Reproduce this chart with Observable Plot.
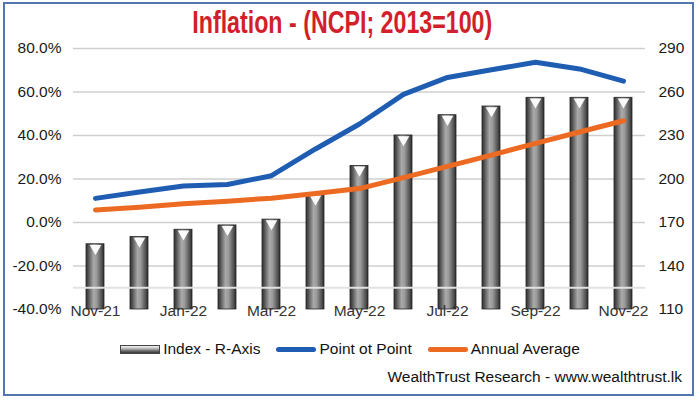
<!DOCTYPE html>
<html>
<head>
<meta charset="utf-8">
<script src="https://cdn.jsdelivr.net/npm/d3@7"></script>
<script src="https://cdn.jsdelivr.net/npm/@observablehq/plot@0.6"></script>
<style>
  html, body { margin: 0; padding: 0; background: #fff; }
  #wrap { position: relative; width: 700px; height: 400px; overflow: hidden; font-family: "Liberation Sans", Arial, sans-serif; }
  #frame { position: absolute; left: 3px; top: 2px; width: 687px; height: 390px; border: 2px solid #5476b0; box-sizing: content-box; }
  #title { position: absolute; top: 5px; left: 0; width: 685px; text-align: center; }
  #title span { display: inline-block; font-family: "Liberation Sans Narrow", "Liberation Sans", Arial, sans-serif; font-weight: bold; font-size: 31px; color: #d21f2b; transform-origin: center; white-space: nowrap; }
  #chart { position: absolute; left: 0; top: 40px; }
  #legend { position: absolute; top: 340px; left: 0; width: 700px; display: flex; justify-content: center; align-items: center; font-size: 15.5px; color: #111; }
  .item { display: flex; align-items: center; margin: 0 8px; }
  .sw { width: 40px; margin-right: 3px; }
  #source { position: absolute; top: 368px; right: 18px; font-size: 15.5px; color: #111; }
</style>
</head>
<body>
<div id="wrap">
  <div id="frame"></div>
  <div id="title"><span id="titleText"></span></div>
  <div id="chart"></div>
  <div id="legend"></div>
  <div id="source"></div>
</div>
<script>
const titleText = "Inflation - (NCPI; 2013=100)";
const sourceText = "WealthTrust Research - www.wealthtrust.lk";
const months = ["Nov-21","Dec-21","Jan-22","Feb-22","Mar-22","Apr-22","May-22","Jun-22","Jul-22","Aug-22","Sep-22","Oct-22","Nov-22"];
const indexValues = [155, 160, 165, 168, 172, 189, 209, 230, 244, 250, 256, 256, 256];
const pointToPoint = [11.1, 14.0, 16.8, 17.5, 21.5, 33.8, 45.3, 58.9, 66.7, 70.2, 73.7, 70.6, 65.0];
const annualAverage = [5.8, 7.0, 8.6, 9.8, 11.2, 13.3, 15.6, 20.6, 25.8, 31.0, 36.4, 41.6, 46.8];
const leftTicks = [-40, -20, 0, 20, 40, 60, 80];
const rightTicks = [110, 140, 170, 200, 230, 260, 290];
const gridTicks = [-20, 0, 20, 40, 60, 80];
const axisLine = [-30];
const xLabels = months.filter((d, i) => i % 2 === 0);
const seriesNames = ["Index - R-Axis", "Point ot Point", "Annual Average"];
const seriesColors = ["#888", "#1f5db3", "#ec6a21"];

document.getElementById("titleText").textContent = titleText;
document.getElementById("source").textContent = sourceText;

const rows = months.map((m, i) => ({month: m, index: indexValues[i], ptp: pointToPoint[i], avg: annualAverage[i]}));

// map the right-axis index onto the left-axis percent scale
const rMin = rightTicks[0], rMax = rightTicks[rightTicks.length - 1];
const lMin = leftTicks[0], lMax = leftTicks[leftTicks.length - 1];
const toY = v => (v - rMin) / (rMax - rMin) * (lMax - lMin) + lMin;
const fromY = y => Math.round((y - lMin) / (lMax - lMin) * (rMax - rMin) + rMin);

const defs = () => {
  const d = d3.create("svg:defs");
  const g = d.append("linearGradient").attr("id", "barGrad").attr("x1", 0).attr("x2", 1).attr("y1", 0).attr("y2", 0);
  [[0, "#2e2e2e"], [0.14, "#555"], [0.42, "#a9a9a9"], [0.58, "#9c9c9c"], [0.86, "#545454"], [1, "#2a2a2a"]]
    .forEach(([o, c]) => g.append("stop").attr("offset", o).attr("stop-color", c));
  return d.node();
};

const chart = Plot.plot({
  width: 700,
  height: 294,
  marginTop: 8,
  marginBottom: 25,
  marginLeft: 73,
  marginRight: 55,
  style: {fontFamily: "'Liberation Sans', Arial, sans-serif", fontSize: "15.5px", color: "#1a1a1a", background: "transparent", overflow: "visible"},
  x: {domain: months, paddingInner: 0.58, paddingOuter: 0.29, axis: null},
  y: {domain: [lMin, lMax], axis: null},
  marks: [
    defs,
    Plot.gridY(gridTicks, {stroke: "#cfcfcf", strokeOpacity: 1, strokeWidth: 1.3}),
    Plot.axisY(leftTicks, {anchor: "left", tickSize: 0, tickPadding: 12, tickFormat: d => d.toFixed(1) + "%", label: null}),
    Plot.axisY(rightTicks.map(toY), {anchor: "right", tickSize: 0, tickPadding: 13, tickFormat: d => String(fromY(d)), label: null}),
    Plot.barY(rows, {x: "month", y1: lMin, y2: d => toY(d.index), fill: "url(#barGrad)", stroke: "#262626", strokeWidth: 0.8}),
    Plot.ruleY(axisLine, {stroke: "#e2e2e2", strokeWidth: 1.8}),
    Plot.dot(rows, {x: "month", y: d => toY(d.index), symbol: "triangle", rotate: 180, r: 4.3, fill: "#fff", fillOpacity: 0.95, dy: 4}),
    Plot.lineY(rows, {x: "month", y: "ptp", stroke: seriesColors[1], strokeWidth: 5, strokeLinecap: "round", strokeLinejoin: "round"}),
    Plot.lineY(rows, {x: "month", y: "avg", stroke: seriesColors[2], strokeWidth: 5, strokeLinecap: "round", strokeLinejoin: "round"}),
    Plot.axisX(xLabels, {anchor: "bottom", tickSize: 0, tickPadding: -5, fill: "#333", label: null})
  ]
});
document.getElementById("chart").appendChild(chart);

// legend
const legend = document.getElementById("legend");
seriesNames.forEach((name, i) => {
  const item = document.createElement("div");
  item.className = "item";
  const sw = document.createElement("div");
  sw.className = "sw";
  if (i === 0) {
    sw.style.height = "9px";
    sw.style.background = "linear-gradient(to bottom, #f4f4f4 0%, #bdbdbd 35%, #6a6a6a 70%, #3a3a3a 100%)";
    sw.style.border = "1px solid #444";
    sw.style.boxSizing = "border-box";
  } else {
    sw.style.height = "5px";
    sw.style.borderRadius = "3px";
    sw.style.background = seriesColors[i];
  }
  const t = document.createElement("span");
  t.textContent = name;
  item.appendChild(sw);
  item.appendChild(t);
  legend.appendChild(item);
});

// fit title width
const ts = document.getElementById("titleText");
const w = ts.getBoundingClientRect().width;
ts.style.transform = `scaleX(${300 / w})`;
</script>
</body>
</html>
